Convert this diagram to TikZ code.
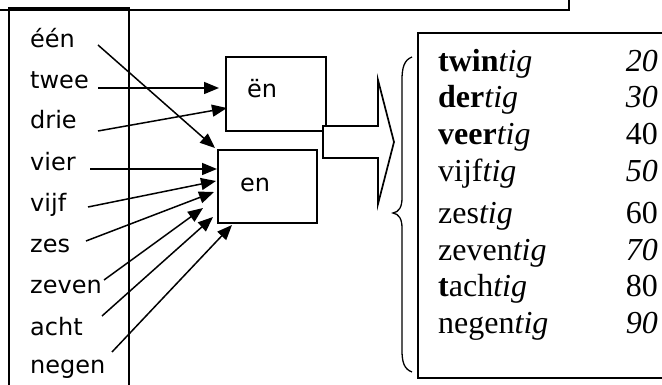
\documentclass[tikz,border=0pt]{standalone}
\usepackage{fontspec}
\setmainfont{Liberation Serif}
\newfontfamily\wordfont{DejaVu Sans}
\usetikzlibrary{arrows.meta}
\begin{document}
\begin{tikzpicture}[x=1pt,y=-1pt,
  word/.style={anchor=base west,inner sep=0pt,font=\wordfont\fontsize{24}{28}\selectfont},
  tword/.style={anchor=base west,inner sep=0pt,font=\fontsize{32}{38}\selectfont},
  tnum/.style={anchor=base east,inner sep=0pt,font=\fontsize{32}{38}\selectfont},
  suffbox/.style={draw,line width=1.7pt,inner sep=0pt},
  link/.style={line width=1.5pt,-{Triangle[length=15pt,width=12pt]}},
  frame/.style={line width=1.7pt}]
\clip (0,0) rectangle (662,385);
\useasboundingbox (0,0) rectangle (662,385);
% frames
\draw[frame] (0,10) -- (569,10) -- (569,-5);
\draw[frame] (9,395) -- (9,8) -- (129,8) -- (129,395);
\draw[frame] (670,33) -- (418,33) -- (418,378) -- (670,378);
% suffix boxes
\node[suffbox,minimum width=100pt,minimum height=74pt] (b1) at (276,94) {};
\node[suffbox,minimum width=99pt,minimum height=73pt] (b2) at (267.5,186.5) {};
\node[word] (t1) at (247,98) {ën};
\node[word] (t2) at (240,192) {en};
% big arrow
\draw[frame,fill=white] (323,126) -- (378,126) -- (378,80) -- (394,142) -- (378,204) -- (378,158) -- (323,158) -- cycle;
% brace
\draw[line width=1.3pt] (412,57) .. controls (404,60) and (402,68) .. (402,80)
  -- (402,198) .. controls (402,207) and (399,212) .. (393,213)
  .. controls (399,214) and (402,219) .. (402,228)
  -- (402,350) .. controls (402,362) and (404,369) .. (412,372);
% words
\node[word] (w1) at (30,48) {één};
\node[word] (w2) at (30,89) {twee};
\node[word] (w3) at (30,129) {drie};
\node[word] (w4) at (30,171) {vier};
\node[word] (w5) at (30,212) {vijf};
\node[word] (w6) at (30,253) {zes};
\node[word] (w7) at (30,294) {zeven};
\node[word] (w8) at (30,335) {acht};
\node[word] (w9) at (30,373) {negen};
% arrow start points
\coordinate (s1) at (98,45);
\coordinate (s2) at (98,88);
\coordinate (s3) at (98,131);
\coordinate (s4) at (90,169);
\coordinate (s5) at (88,207);
\coordinate (s6) at (86,241);
\coordinate (s7) at (104,280);
\coordinate (s8) at (102,316);
\coordinate (s9) at (112,352);
% arrow end points
\coordinate (e1) at (215,148);
\coordinate (e2) at (219,88);
\coordinate (e3) at (227,108);
\coordinate (e4) at (217,169);
\coordinate (e5) at (216,181);
\coordinate (e6) at (214,192);
\coordinate (e7) at (203,208);
\coordinate (e8) at (213,217);
\coordinate (e9) at (232,225);
\foreach \i in {1,...,9} {\draw[link] (s\i) -- (e\i);}
% right list
\node[tword] (r1) at (438,72) {\textbf{twin}\textit{tig}};
\node[tword] (r2) at (438,108) {\textbf{der}\textit{tig}};
\node[tword] (r3) at (438,145) {\textbf{veer}\textit{tig}};
\node[tword] (r4) at (438,182) {vijf\textit{tig}};
\node[tword] (r5) at (438,223) {zes\textit{tig}};
\node[tword] (r6) at (438,260) {zeven\textit{tig}};
\node[tword] (r7) at (438,296) {\textbf{t}ach\textit{tig}};
\node[tword] (r8) at (438,333) {negen\textit{tig}};
\node[tnum] (n1) at (658,72) {\textit{20}};
\node[tnum] (n2) at (658,108) {\textit{30}};
\node[tnum] (n3) at (658,145) {40};
\node[tnum] (n4) at (658,182) {\textit{50}};
\node[tnum] (n5) at (658,223) {60};
\node[tnum] (n6) at (658,260) {\textit{70}};
\node[tnum] (n7) at (658,296) {80};
\node[tnum] (n8) at (658,333) {\textit{90}};
\end{tikzpicture}
\end{document}
